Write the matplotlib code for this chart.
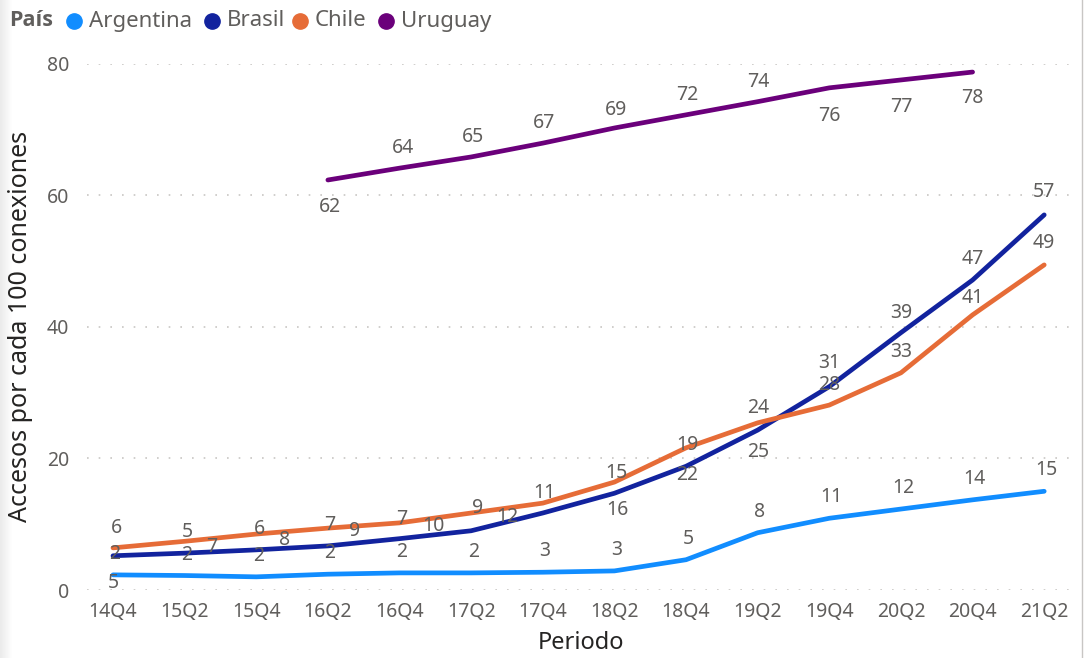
import numpy as np
import matplotlib
matplotlib.use("Agg")
import matplotlib.pyplot as plt
from matplotlib.lines import Line2D
from matplotlib.patches import Rectangle

plt.rcParams["font.family"] = ["Noto Sans", "DejaVu Sans"]

# data
periods = ["14Q4", "15Q2", "15Q4", "16Q2", "16Q4", "17Q2", "17Q4",
           "18Q2", "18Q4", "19Q2", "19Q4", "20Q2", "20Q4", "21Q2"]
argentina = [2.3, 2.2, 2.0, 2.4, 2.6, 2.6, 2.7, 2.9, 4.6, 8.7, 10.9, 12.3, 13.7, 15.0]
brasil = [5.2, 5.6, 6.1, 6.7, 7.8, 9.0, 11.7, 14.7, 18.8, 24.3, 30.9, 39.1, 47.1, 57.0]
chile = [6.4, 7.4, 8.5, 9.4, 10.2, 11.7, 13.2, 16.4, 21.6, 25.4, 28.1, 33.0, 41.8, 49.4]
uruguay = [None, None, None, 62.3, 64.1, 65.8, 67.9, 70.2, 72.2, 74.2, 76.3, 77.5, 78.7, None]

# data labels as shown on the chart
lab_arg = ["2", "2", "2", "2", "2", "2", "3", "3", "5", "8", "11", "12", "14", "15"]
lab_bra = ["5", "7", "8", "9", "10", "12", None, "16", "22", "25", "31", "39", "47", "57"]
lab_chi = ["6", "5", "6", "7", "7", "9", "11", "15", "19", "24", "28", "33", "41", "49"]
lab_uru = [None, None, None, "62", "64", "65", "67", "69", "72", "74", "76", "77", "78", None]

# label offsets in pixels (dx, dy up)
off_arg = [(2, 21)] * 14
off_bra = [(0, -27), (27, 6), (28, 10), (27, 15), (34, 13), (36, 14), (0, 0),
           (3, -17), (1, -9), (1, -22), (0, 24), (0, 20), (0, 21), (0, 23)]
off_chi = [(3, 20), (3, 9), (3, 5), (2, 3), (2, 4), (6, 5), (2, 10),
           (2, 9), (1, 3), (1, 15), (0, 20), (0, 21), (0, 17), (0, 22)]
off_uru = [None, None, None, (2, -27), (3, 20), (2, 20), (1, 20), (2, 18),
           (1, 20), (1, 20), (0, -28), (0, -27), (0, -26), None]

names = ["Argentina", "Brasil", "Chile", "Uruguay"]
colors = ["#118DFF", "#12239E", "#E66C37", "#6B007B"]
series = [argentina, brasil, chile, uruguay]
labels = [lab_arg, lab_bra, lab_chi, lab_uru]
offsets = [off_arg, off_bra, off_chi, off_uru]

grey = "#605E5C"

fig = plt.figure(figsize=(10.85, 6.58), dpi=100)
W, H = 1085, 658
ax = fig.add_axes([87 / W, (H - 590) / H, (1075 - 87) / W, (590 - 63.5) / H])

x = np.arange(len(periods))
for vals, col, labs, offs in zip(series, colors, labels, offsets):
    y = np.array([np.nan if v is None else v for v in vals], dtype=float)
    ax.plot(x, y, color=col, lw=3.4, solid_capstyle="round", solid_joinstyle="round",
            clip_on=False, zorder=3)
    for i, (v, t, o) in enumerate(zip(vals, labs, offs)):
        if v is None or t is None:
            continue
        ax.annotate(t, (i, v), xytext=(o[0], o[1]), textcoords="offset pixels",
                    ha="center", va="center", fontsize=14, color=grey,
                    annotation_clip=False, zorder=4)

ax.set_xlim(-0.363, 13.43)
ax.set_ylim(0, 80)
ax.set_yticks([0, 20, 40, 60, 80])
ax.set_xticks(x)
ax.set_xticklabels(periods)
ax.tick_params(length=0, labelsize=14, colors=grey)
ax.tick_params(axis="y", pad=13)
ax.tick_params(axis="x", pad=9)
for s in ax.spines.values():
    s.set_visible(False)
ax.grid(axis="y", color="#C8C6C4", lw=1.2, linestyle=(0, (1, 6)))
ax.set_axisbelow(True)

ax.set_xlabel("Periodo", fontsize=17, color="#252423", labelpad=6)
ax.set_ylabel("Accesos por cada 100 conexiones", fontsize=18, color="#252423",
              labelpad=10)

# legend strip
ly = 1 - 21 / H
fig.text(9 / W, ly, "País", fontsize=15.5, fontweight="bold", color=grey,
         va="center", ha="left", family=["Open Sans", "DejaVu Sans"])
leg_dot = [74, 212, 300, 386]
for name, col, xd in zip(names, colors, leg_dot):
    fig.add_artist(Line2D([xd / W], [ly], marker="o", markersize=11,
                          color=col, transform=fig.transFigure))
    fig.text((xd + 15) / W, ly, name, fontsize=16, color=grey,
             va="center", ha="left")

# left shadow and right border
for k in range(12):
    fig.add_artist(Rectangle((k / W, 0), 1 / W, 1, transform=fig.transFigure,
                             color="#000000", alpha=0.08 * (1 - k / 12), lw=0))
fig.add_artist(Line2D([1082 / W, 1082 / W], [0, 1], color="#C8C6C4", lw=1,
                      transform=fig.transFigure))

fig.savefig("out.png", dpi=100)
